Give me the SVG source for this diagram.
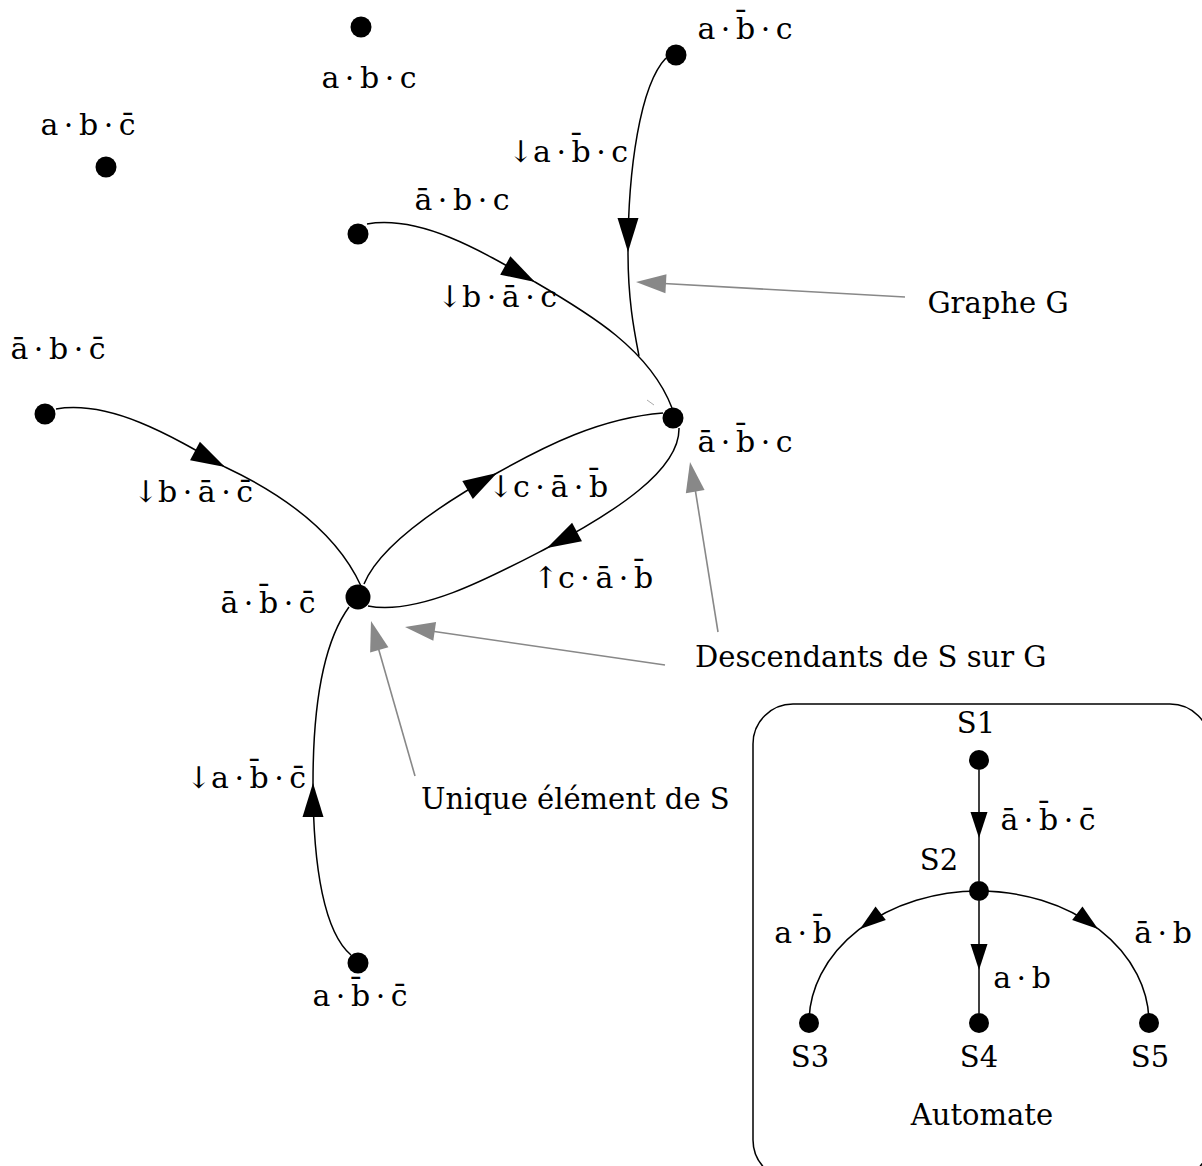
<svg xmlns="http://www.w3.org/2000/svg" xmlns:xlink="http://www.w3.org/1999/xlink" width="1202" height="1166" viewBox="0 0 1202 1166">
<style>
.t{font-family:"DejaVu Serif","Liberation Serif",serif;font-size:29px;fill:#000}
.m{font-size:30px;word-spacing:-4px}
.c{text-anchor:middle}
.e{fill:none;stroke:#000;stroke-width:1.5}
.g{fill:none;stroke:#888;stroke-width:1.6}
.n{fill:#000}
.box{fill:none;stroke:#000;stroke-width:1.5}
</style>
<defs>
<polygon id="ah" points="0,0 -34,-10.5 -34,10.5" fill="#000"/>
<polygon id="ahs" points="0,0 -26,-8.5 -26,8.5" fill="#000"/>
<polygon id="ahg" points="0,0 -30,-9.5 -30,9.5" fill="#888"/>
</defs>
<rect width="1202" height="1166" fill="#fff"/>

<g id="connectors">
  <path class="e" d="M666,58 C640,85 628,170 628,252 C628,300 634,330 639,356"/>
  <line x1="647" y1="400" x2="654" y2="405" stroke="#aaa" stroke-width="1"/>
  <use xlink:href="#ah" transform="translate(628,252) rotate(90)"/>
  <path class="e" d="M367,224 C420,215 480,250 535,282 C590,314 650,350 672,408"/>
  <use xlink:href="#ah" transform="translate(535,282) rotate(29)"/>
  <path class="e" d="M56,409 C110,400 170,435 225,467 C295,500 340,540 361,586"/>
  <use xlink:href="#ah" transform="translate(225,467) rotate(28)"/>
  <path class="e" d="M364,584 C380,545 440,505 497,473 C545,446 600,418 663,413"/>
  <use xlink:href="#ah" transform="translate(497,473) rotate(-30)"/>
  <path class="e" d="M679,428 C680,470 615,512 547,548 C495,575 420,616 368,606"/>
  <use xlink:href="#ah" transform="translate(547,548) rotate(152)"/>
  <path class="e" d="M351,955 C325,933 313,870 313,783 C313,700 325,640 349,607"/>
  <use xlink:href="#ah" transform="translate(313,783) rotate(-90)"/>
  <!-- annotation arrows -->
  <line class="g" x1="905" y1="297" x2="655" y2="283"/>
  <use xlink:href="#ahg" transform="translate(636,282) rotate(183.2)"/>
  <line class="g" x1="718" y1="632" x2="694" y2="482"/>
  <use xlink:href="#ahg" transform="translate(690,462) rotate(260)"/>
  <line class="g" x1="665" y1="665" x2="424" y2="630"/>
  <use xlink:href="#ahg" transform="translate(405,627) rotate(188.3)"/>
  <line class="g" x1="415" y1="776" x2="376" y2="640"/>
  <use xlink:href="#ahg" transform="translate(371,621) rotate(254)"/>
</g>

<g id="n_abc"><circle class="n" cx="361" cy="27" r="10.5"/><text class="t m c" x="369" y="88">a · b · c</text></g>
<g id="n_abnc"><circle class="n" cx="106" cy="167" r="10.5"/><text class="t m c" x="88" y="135">a · b · c&#x304;</text></g>
<g id="n_anbc"><circle class="n" cx="676" cy="55" r="10.5"/><text class="t m c" x="745" y="39">a · b&#x304; · c</text></g>
<g id="n_nabc"><circle class="n" cx="358" cy="234" r="10.5"/><text class="t m c" x="462" y="210">ā · b · c</text></g>
<g id="n_nabnc"><circle class="n" cx="45" cy="414" r="10.5"/><text class="t m c" x="58" y="359">ā · b · c&#x304;</text></g>
<g id="n_nanbc"><circle class="n" cx="673" cy="418" r="10.5"/><text class="t m c" x="745" y="452">ā · b&#x304; · c</text></g>
<g id="n_nanbnc"><circle class="n" cx="358" cy="597" r="12.5"/><text class="t m c" x="268" y="613">ā · b&#x304; · c&#x304;</text></g>
<g id="n_anbnc"><circle class="n" cx="358" cy="963" r="10.5"/><text class="t m c" x="360" y="1006">a · b&#x304; · c&#x304;</text></g>

<g id="edge_labels">
  <text class="t m c" x="568" y="162">↓a · b&#x304; · c</text>
  <text class="t m c" x="497" y="307">↓b · ā · c</text>
  <text class="t m c" x="193" y="502">↓b · ā · c&#x304;</text>
  <text class="t m c" x="548" y="497">↓c · ā · b&#x304;</text>
  <text class="t m c" x="593" y="588">↑c · ā · b&#x304;</text>
  <text class="t m c" x="246" y="788">↓a · b&#x304; · c&#x304;</text>
</g>

<g id="ann_graphe"><text class="t c" x="998" y="313">Graphe G</text></g>
<g id="ann_desc"><text class="t" x="695" y="667">Descendants de S sur G</text></g>
<g id="ann_unique"><text class="t" x="421" y="809">Unique élément de S</text></g>

<g id="automate">
  <rect class="box" x="753" y="704" width="457" height="476" rx="40" ry="40"/>
  <text class="t c" x="982" y="1125">Automate</text>
  <g id="auto_connectors">
    <line class="e" x1="979" y1="770" x2="979" y2="881"/>
    <use xlink:href="#ahs" transform="translate(979,838) rotate(90)"/>
    <line class="e" x1="979" y1="901" x2="979" y2="1013"/>
    <use xlink:href="#ahs" transform="translate(979,970) rotate(90)"/>
    <path class="e" d="M979,891 A170,132 0 0 0 809,1023"/>
    <use xlink:href="#ahs" transform="translate(860,929) rotate(142.7)"/>
    <path class="e" d="M979,891 A170,132 0 0 1 1149,1023"/>
    <use xlink:href="#ahs" transform="translate(1098,929) rotate(37.3)"/>
    <text class="t m c" x="1048" y="830">ā · b&#x304; · c&#x304;</text>
    <text class="t m c" x="1022" y="988">a · b</text>
    <text class="t m c" x="803" y="943">a · b&#x304;</text>
    <text class="t m c" x="1163" y="943">ā · b</text>
  </g>
  <g id="S1"><circle class="n" cx="979" cy="760" r="10"/><text class="t c" x="976" y="733">S1</text></g>
  <g id="S2"><circle class="n" cx="979" cy="891" r="10"/><text class="t c" x="939" y="870">S2</text></g>
  <g id="S3"><circle class="n" cx="809" cy="1023" r="10"/><text class="t c" x="810" y="1067">S3</text></g>
  <g id="S4"><circle class="n" cx="979" cy="1023" r="10"/><text class="t c" x="979" y="1067">S4</text></g>
  <g id="S5"><circle class="n" cx="1149" cy="1023" r="10"/><text class="t c" x="1150" y="1067">S5</text></g>
</g>
</svg>
